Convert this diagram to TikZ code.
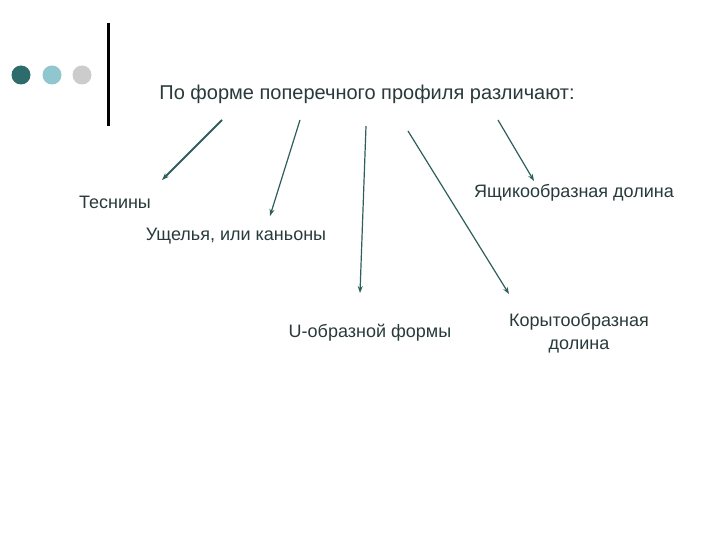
\documentclass[tikz,border=0pt]{standalone}
\usepackage{fontspec}
\setmainfont{Liberation Sans}
\usetikzlibrary{arrows.meta}
\definecolor{teal1}{HTML}{2E6B6B}
\definecolor{blue1}{HTML}{90C6CE}
\definecolor{gray1}{HTML}{CCCCCC}
\definecolor{txt}{HTML}{2A3A3A}
\definecolor{arr}{HTML}{2F5F5A}
\tikzset{
	lbl/.style={text=txt, font=\fontsize{18}{23}\selectfont, inner sep=0pt},
	pil/.style={draw=arr, line width=1.2pt, -{Stealth[length=7pt,width=5pt]}}
}
\begin{document}
\begin{tikzpicture}[x=1pt, y=-1pt]
				\useasboundingbox[fill=white] (0, 0) rectangle (720, 540);
				
				\fill[teal1] (21, 75) circle (9.5);
				\fill[blue1] (52, 75) circle (9.5);
				\fill[gray1] (82, 75) circle (9.5);
				\draw[line width=3pt] (108, 23) -- (108, 126);
				
				\node[lbl, font=\fontsize{20}{24}\selectfont] (title) at (367, 94) {По форме поперечного профиля различают:};
				
				\node[lbl] (tesniny) at (115, 202) {Теснины};
				\node[lbl] (ushchelya) at (236, 236) {Ущелья, или каньоны};
				\node[lbl] (uform) at (370, 333) {U-образной формы};
				\node[lbl, align=center] (koryto) at (579, 333) {Корытообразная\\долина};
				\node[lbl] (yashchik) at (574, 193) {Ящикообразная долина};
				
				\coordinate (a1) at (222, 120);
				\coordinate (a2) at (300, 120);
				\coordinate (a3) at (366, 126);
				\coordinate (a4) at (408, 131);
				\coordinate (a5) at (498, 120);
				\coordinate (b1) at (162, 180);
				\coordinate (b2) at (270, 216);
				\coordinate (b3) at (360, 293);
				\coordinate (b4) at (509, 294);
				\coordinate (b5) at (534, 181);
				
				\draw[pil, line width=1.8pt] (a1) -- (b1);
				\draw[pil] (a2) -- (b2);
				\draw[pil] (a3) -- (b3);
				\draw[pil] (a4) -- (b4);
				\draw[pil] (a5) -- (b5);
			\end{tikzpicture}
\end{document}
